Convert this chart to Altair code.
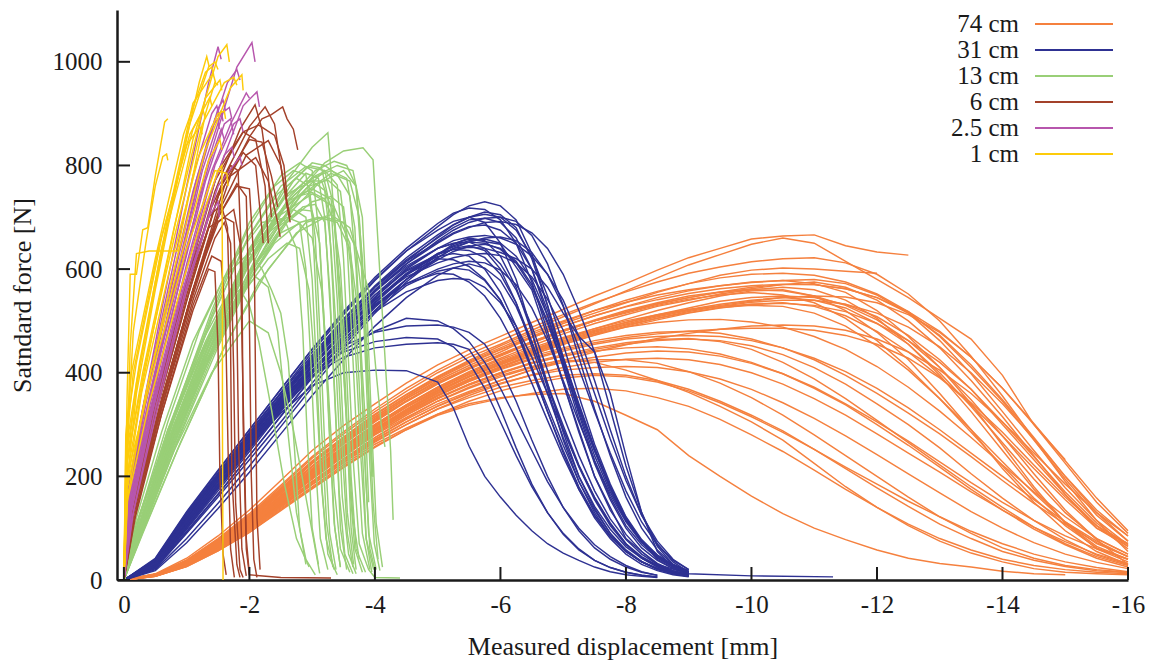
import altair as alt
import pandas as pd

GROUPS = ["74 cm", "31 cm", "13 cm", "6 cm", "2.5 cm", "1 cm"]
COLORS = ["#F5803E", "#2E3192", "#99CF77", "#A3412A", "#B756AD", "#FDCB0A"]

X_TICKS = [0, -2, -4, -6, -8, -10, -12, -14, -16]
Y_TICKS = [0, 200, 400, 600, 800, 1000]

# ---- 74 cm (shared displacement grid, mm) ----
ORANGE_X = [0, -0.5, -1, -1.5, -2, -2.5, -3, -3.5, -4, -4.5, -5, -5.5, -6,
            -6.5, -7, -7.5, -8, -8.5, -9, -9.5, -10, -10.5, -11,
            -11.5, -12, -12.5, -13, -13.5, -14, -14.5, -15, -15.5, -16]
ORANGE_Y = [
    [0, 12, 42, 85, 135, 192, 250, 298, 340, 380, 415, 444, 470, 497, 522, 548, 572, 598, 622, 640, 658, 664, 666, 645, 633, 627],
    [0, 11, 38, 78, 125, 180, 235, 282, 325, 364, 400, 430, 455, 482, 508, 533, 558, 583, 608, 628, 648, 660, 650, 615, 580, 545, 505, 465, 395, 300, 232],
    [0, 10, 35, 74, 120, 172, 225, 272, 315, 354, 390, 420, 445, 470, 495, 515, 535, 555, 572, 588, 598, 602, 600, 596, 592],
    [0, 10, 36, 74, 118, 170, 220, 267, 310, 350, 385, 414, 440, 468, 490, 510, 528, 545, 558, 568, 575, 578, 572, 555, 520, 470, 410, 340, 260, 180, 110, 60, 35],
    [0, 9, 33, 70, 112, 162, 210, 256, 300, 338, 372, 402, 428, 452, 475, 495, 512, 528, 540, 552, 560, 565, 560, 540, 505, 455, 395, 325, 250, 175, 110, 65, 40],
    [0, 8, 30, 64, 105, 153, 200, 246, 290, 328, 362, 392, 418, 443, 465, 485, 503, 520, 535, 548, 558, 560, 548, 520, 478, 425, 360, 290, 215, 150, 95, 55, 30],
    [0, 10, 34, 72, 115, 166, 215, 262, 305, 344, 378, 407, 432, 457, 480, 500, 518, 533, 545, 555, 562, 570, 575, 565, 540, 500, 448, 385, 315, 240, 165, 100, 70],
    [0, 9, 31, 67, 108, 157, 205, 251, 295, 334, 368, 397, 422, 445, 465, 482, 497, 510, 522, 532, 540, 545, 540, 525, 495, 455, 400, 335, 265, 195, 130, 80, 50],
    [0, 11, 37, 76, 120, 173, 225, 270, 312, 350, 382, 410, 435, 460, 482, 500, 515, 530, 542, 550, 555, 550, 535, 505, 462, 410, 350, 285, 220, 158, 105, 62, 40],
    [0, 8, 29, 62, 100, 148, 195, 241, 285, 322, 355, 384, 410, 435, 455, 472, 488, 502, 515, 525, 532, 535, 528, 510, 480, 440, 392, 338, 278, 215, 155, 100, 65],
    [0, 10, 35, 70, 112, 163, 212, 257, 300, 337, 370, 397, 420, 442, 462, 480, 497, 512, 525, 538, 545, 548, 545, 532, 508, 472, 425, 368, 300, 232, 165, 105, 60],
    [0, 9, 32, 68, 110, 160, 208, 254, 298, 334, 365, 392, 415, 438, 458, 476, 492, 505, 516, 526, 530, 528, 515, 490, 452, 405, 350, 290, 228, 168, 112, 70, 45],
    [0, 8, 30, 63, 102, 150, 195, 240, 282, 318, 350, 376, 398, 418, 432, 445, 455, 462, 465, 462, 452, 435, 410, 378, 340, 300, 255, 205, 158, 115, 78, 48, 30],
    [0, 8, 28, 60, 98, 145, 190, 233, 275, 310, 340, 364, 385, 405, 420, 430, 438, 442, 440, 432, 418, 398, 370, 338, 300, 260, 218, 175, 135, 98, 68, 42, 25],
    [0, 9, 33, 68, 108, 157, 205, 250, 292, 328, 360, 387, 410, 432, 448, 462, 472, 478, 480, 476, 465, 448, 425, 395, 360, 322, 282, 238, 192, 148, 108, 72, 45],
    [0, 9, 31, 65, 104, 152, 198, 243, 286, 321, 352, 378, 400, 420, 435, 448, 458, 464, 466, 460, 445, 420, 388, 350, 308, 265, 222, 180, 140, 102, 70, 45, 28],
    [0, 7, 27, 58, 95, 138, 180, 222, 262, 293, 320, 340, 352, 358, 360, 345, 318, 290, 240, 200, 162, 128, 100, 78, 58, 42, 32, 25, 17, 12, 10],
    [0, 8, 29, 62, 100, 146, 190, 234, 275, 312, 345, 372, 395, 412, 425, 420, 405, 385, 362, 335, 305, 270, 225, 180, 140, 105, 75, 52, 35, 22, 15, 12, 10],
    [0, 7, 26, 56, 92, 136, 178, 219, 258, 290, 318, 337, 350, 360, 368, 370, 365, 352, 335, 310, 280, 248, 212, 175, 140, 108, 80, 58, 40, 28, 20, 15, 12],
    [0, 8, 30, 64, 103, 150, 195, 238, 280, 314, 345, 370, 392, 410, 420, 425, 425, 418, 402, 380, 352, 318, 280, 240, 200, 160, 122, 90, 62, 42, 28, 20, 15],
    [0, 8, 28, 60, 97, 142, 185, 227, 268, 300, 330, 352, 372, 385, 395, 398, 395, 385, 368, 345, 318, 288, 252, 215, 178, 142, 108, 80, 55, 38, 26, 18, 14],
    [0, 10, 36, 75, 122, 175, 228, 275, 318, 357, 392, 422, 448, 474, 498, 520, 540, 557, 572, 583, 590, 592, 588, 575, 552, 518, 470, 410, 345, 270, 195, 125, 75],
    [0, 11, 37, 77, 124, 177, 230, 276, 320, 358, 393, 424, 452, 478, 500, 520, 536, 550, 560, 568, 574, 578, 580, 572, 550, 515, 462, 398, 325, 250, 178, 115, 68],
    [0, 9, 32, 68, 110, 158, 205, 250, 292, 330, 364, 392, 416, 438, 458, 475, 488, 497, 502, 503, 498, 488, 470, 445, 412, 372, 326, 275, 222, 170, 122, 80, 50],
    [0, 8, 29, 62, 100, 145, 190, 232, 272, 305, 335, 360, 380, 395, 405, 410, 412, 410, 402, 388, 368, 342, 312, 278, 242, 205, 168, 132, 100, 72, 50, 34, 22],
    [0, 11, 39, 80, 128, 183, 238, 286, 330, 370, 405, 436, 462, 488, 512, 535, 556, 575, 592, 604, 614, 620, 622, 612, 590, 552, 500, 432, 355, 272, 190, 115, 55],
    [0, 9, 33, 70, 113, 163, 212, 258, 300, 338, 372, 400, 425, 448, 468, 485, 500, 512, 522, 528, 532, 534, 530, 518, 495, 462, 420, 368, 305, 238, 170, 110, 65],
    [0, 8, 30, 64, 104, 150, 196, 240, 282, 318, 350, 378, 400, 418, 432, 442, 448, 450, 446, 436, 420, 398, 372, 340, 305, 268, 228, 188, 150, 115, 85, 60, 40],
    [0, 9, 31, 66, 106, 154, 200, 245, 288, 325, 357, 385, 408, 428, 445, 458, 468, 475, 480, 484, 486, 486, 482, 472, 455, 428, 390, 342, 285, 222, 160, 105, 70],
    [0, 10, 35, 73, 118, 169, 220, 266, 308, 346, 380, 410, 436, 460, 482, 502, 520, 535, 548, 556, 560, 558, 548, 530, 502, 462, 410, 348, 278, 205, 135, 78, 30],
    [0, 9, 32, 67, 108, 156, 203, 248, 290, 327, 360, 388, 412, 435, 455, 473, 490, 505, 518, 528, 536, 540, 540, 532, 515, 488, 450, 400, 340, 272, 200, 135, 85],
    [0, 8, 29, 61, 99, 144, 188, 230, 270, 305, 336, 362, 385, 406, 424, 440, 454, 466, 476, 484, 490, 492, 490, 482, 465, 440, 405, 360, 305, 245, 185, 130, 85],
    [0, 10, 34, 71, 116, 167, 218, 264, 307, 345, 379, 408, 434, 458, 480, 500, 517, 532, 545, 556, 565, 570, 570, 562, 545, 515, 472, 415, 348, 275, 200, 130, 75],
    [0, 7, 27, 58, 96, 140, 184, 226, 266, 300, 330, 356, 378, 396, 410, 420, 426, 428, 425, 416, 400, 378, 350, 318, 282, 245, 208, 170, 135, 102, 74, 50, 32],
    [0, 9, 33, 69, 111, 160, 208, 253, 296, 333, 366, 394, 418, 440, 460, 478, 494, 508, 520, 530, 538, 545, 548, 546, 535, 512, 478, 430, 370, 300, 225, 150, 90],
    [0, 8, 31, 65, 105, 153, 200, 245, 288, 324, 356, 383, 406, 426, 442, 455, 465, 470, 472, 470, 462, 448, 428, 402, 370, 332, 290, 245, 200, 155, 112, 75, 45],
    [0, 10, 36, 75, 121, 174, 226, 272, 315, 353, 388, 418, 444, 468, 490, 510, 527, 541, 553, 562, 568, 571, 570, 562, 545, 518, 480, 430, 370, 302, 230, 158, 95],
    [0, 7, 26, 56, 92, 134, 176, 217, 256, 290, 320, 345, 365, 380, 390, 395, 392, 382, 365, 342, 315, 285, 252, 218, 185, 152, 122, 94, 70, 50, 35, 24, 16],
]

# ---- 31 cm (shared grid) ----
BLUE_X = [0, -0.5, -1, -1.5, -2, -2.5, -3, -3.5, -4, -4.5, -5, -5.25, -5.5, -5.75, -6,
          -6.25, -6.5, -6.75, -7, -7.25, -7.5, -7.75, -8, -8.25, -8.5, -8.75, -9]
BLUE_Y = [
    [0, 38, 125, 205, 285, 362, 440, 512, 578, 635, 682, 705, 722, 730, 722, 695, 630, 530, 420, 320, 230, 160, 105, 68, 42, 25, 15],
    [0, 34, 118, 195, 275, 350, 425, 495, 560, 615, 662, 685, 700, 710, 705, 680, 620, 530, 430, 335, 250, 175, 115, 75, 48, 30, 18],
    [0, 22, 90, 160, 232, 305, 380, 452, 520, 580, 628, 648, 660, 655, 625, 565, 478, 380, 285, 200, 138, 90, 55, 35, 22, 14, 8],
    [0, 36, 122, 200, 280, 355, 430, 500, 565, 615, 652, 670, 682, 685, 675, 650, 600, 520, 430, 340, 255, 180, 120, 75, 45, 28, 16],
    [0, 20, 80, 148, 220, 296, 372, 446, 515, 575, 622, 640, 645, 636, 600, 535, 450, 360, 275, 200, 142, 98, 64, 42, 28, 18, 10],
    [0, 25, 98, 172, 248, 325, 398, 468, 530, 580, 618, 634, 644, 648, 640, 615, 570, 500, 415, 325, 240, 170, 115, 75, 45, 28, 16],
    [0, 33, 115, 192, 268, 344, 416, 480, 540, 590, 620, 618, 605, 580, 540, 480, 410, 335, 260, 190, 135, 90, 58, 36, 22, 14, 8],
    [0, 35, 120, 198, 276, 352, 426, 495, 558, 610, 650, 668, 680, 690, 692, 686, 670, 640, 590, 520, 440, 330, 220, 130, 65, 30, 14],
    [0, 27, 102, 178, 254, 330, 404, 472, 536, 590, 630, 643, 652, 650, 638, 612, 565, 495, 415, 330, 250, 180, 120, 75, 40, 22, 12],
    [0, 31, 112, 190, 266, 342, 414, 482, 545, 598, 628, 638, 642, 640, 632, 620, 600, 565, 515, 470, 440, 360, 240, 130, 55, 25, 12],
    [0, 37, 124, 202, 280, 354, 426, 490, 550, 596, 624, 630, 625, 600, 555, 490, 410, 325, 245, 175, 120, 80, 50, 30, 18, 10, 6],
    [0, 18, 72, 138, 208, 282, 356, 425, 490, 545, 588, 602, 610, 602, 578, 528, 458, 378, 298, 222, 158, 108, 70, 45, 28, 16, 9],
    [0, 30, 110, 185, 258, 322, 375, 400, 405, 404, 382, 332, 258, 200, 160, 125, 95, 70, 52, 38, 25, 16, 10, 7, 5],
    [0, 40, 128, 205, 280, 345, 402, 440, 460, 468, 465, 450, 420, 370, 305, 240, 180, 130, 90, 60, 38, 24, 15, 9, 6],
    [0, 28, 104, 180, 255, 328, 392, 443, 480, 505, 500, 485, 460, 420, 370, 310, 250, 190, 140, 100, 68, 45, 28, 16, 9],
    [0, 32, 114, 190, 265, 336, 395, 430, 448, 455, 458, 455, 445, 400, 330, 255, 185, 130, 88, 58, 38, 24, 15, 9, 6],
    [0, 29, 106, 182, 258, 332, 402, 464, 518, 556, 578, 582, 580, 565, 535, 490, 430, 360, 290, 220, 160, 110, 70, 42, 25, 14, 8],
    [0, 37, 124, 204, 284, 360, 434, 502, 566, 618, 660, 680, 695, 698, 690, 660, 600, 510, 410, 310, 225, 155, 100, 62, 38, 22, 12],
    [0, 42, 132, 212, 290, 368, 445, 515, 580, 635, 675, 692, 700, 690, 650, 580, 480, 370, 270, 190, 130, 85, 55, 35, 20, 12, 7],
    [0, 40, 130, 210, 290, 368, 446, 518, 584, 640, 688, 708, 718, 715, 695, 650, 575, 480, 380, 285, 200, 135, 88, 55, 32, 18, 10],
    [0, 24, 94, 166, 240, 316, 390, 458, 520, 568, 596, 602, 598, 578, 540, 480, 405, 325, 250, 180, 125, 85, 55, 35, 22, 12, 7],
    [0, 30, 110, 186, 262, 338, 412, 480, 545, 600, 640, 655, 662, 665, 660, 648, 625, 590, 540, 470, 385, 290, 200, 125, 70, 35, 15],
    [0, 35, 118, 196, 270, 340, 405, 452, 478, 490, 492, 488, 478, 455, 410, 345, 270, 200, 140, 95, 62, 40, 25, 15, 9],
    [0, 30, 108, 185, 260, 335, 410, 478, 540, 592, 630, 638, 636, 622, 590, 535, 460, 375, 292, 218, 155, 105, 68, 42, 26, 15, 9],
    [0, 33, 116, 194, 272, 348, 422, 492, 556, 610, 655, 675, 690, 698, 700, 692, 665, 610, 530, 430, 330, 240, 160, 100, 58, 30, 15],
    [0, 26, 100, 176, 252, 328, 402, 470, 534, 588, 628, 645, 655, 658, 650, 625, 580, 510, 425, 335, 250, 178, 118, 75, 45, 26, 14],
    [0, 36, 122, 200, 278, 354, 428, 496, 558, 606, 640, 650, 652, 640, 610, 560, 490, 405, 318, 240, 172, 118, 78, 50, 30, 17, 9],
    [0, 23, 92, 165, 240, 316, 392, 462, 526, 580, 622, 640, 652, 660, 662, 655, 632, 590, 528, 448, 360, 272, 192, 125, 75, 40, 20],
    [0, 32, 112, 190, 266, 340, 412, 476, 532, 572, 592, 590, 575, 548, 505, 448, 380, 308, 238, 175, 124, 84, 55, 35, 22, 13, 8],
    [0, 39, 127, 206, 284, 360, 434, 504, 568, 622, 666, 686, 700, 706, 700, 675, 625, 548, 455, 355, 262, 185, 122, 78, 48, 28, 15],
    [0, 28, 106, 182, 258, 333, 405, 470, 528, 572, 600, 610, 615, 612, 598, 570, 525, 462, 385, 305, 230, 165, 112, 72, 44, 25, 14],
    [0, 34, 118, 195, 272, 348, 420, 486, 542, 585, 612, 622, 628, 630, 626, 612, 585, 542, 482, 408, 325, 245, 172, 112, 68, 38, 20],
]
BLUE_TAIL = [(0, 0), (-0.5, 32), (-1, 115), (-1.5, 195), (-2, 272), (-2.5, 348), (-3, 420), (-3.5, 488),
             (-4, 550), (-4.5, 603), (-5, 640), (-5.5, 658), (-6, 648), (-6.5, 560), (-7, 380), (-7.5, 200),
             (-8, 80), (-8.5, 30), (-9, 12), (-10, 8), (-11.3, 6)]

# ---- 13 cm ----
GREEN = [
    [(0, 0), (-0.3, 115), (-0.8, 290), (-1.4, 470), (-2.0, 630), (-2.6, 770), (-3.0, 835), (-3.25, 863), (-3.28, 820), (-3.35, 700), (-3.45, 500), (-3.55, 300), (-3.65, 120), (-3.75, 40)],
    [(0, 0), (-0.3, 105), (-0.8, 270), (-1.5, 470), (-2.2, 630), (-2.8, 750), (-3.2, 805), (-3.5, 828), (-3.81, 834), (-3.97, 811), (-4.05, 650), (-4.15, 450), (-4.25, 250), (-4.29, 116)],
    [(0, 0), (-0.25, 125), (-0.7, 290), (-1.3, 460), (-1.9, 610), (-2.5, 730), (-2.9, 785), (-3.1, 775), (-3.2, 700), (-3.3, 500), (-3.38, 300), (-3.45, 100), (-3.55, 20)],
    [(0, 0), (-0.3, 120), (-0.8, 300), (-1.4, 480), (-2.0, 630), (-2.6, 730), (-3.0, 755), (-3.3, 735), (-3.45, 600), (-3.55, 400), (-3.62, 200), (-3.7, 60), (-3.85, 15)],
    [(0, 0), (-0.2, 110), (-0.7, 280), (-1.2, 430), (-1.8, 580), (-2.3, 675), (-2.7, 715), (-2.9, 700), (-3.0, 580), (-3.08, 380), (-3.15, 180), (-3.25, 50), (-3.4, 10)],
    [(0, 0), (-0.3, 100), (-0.9, 280), (-1.5, 450), (-2.1, 600), (-2.7, 715), (-3.1, 765), (-3.5, 790), (-3.7, 760), (-3.8, 620), (-3.88, 420), (-3.95, 200)],
    [(0, 0), (-0.25, 110), (-0.7, 265), (-1.3, 430), (-1.8, 545), (-2.1, 585), (-2.3, 565), (-2.45, 480), (-2.6, 300), (-2.75, 130), (-2.9, 40), (-3.05, 10)],
    [(0, 0), (-0.3, 95), (-0.8, 250), (-1.4, 400), (-2.0, 500), (-2.3, 477), (-2.5, 400), (-2.7, 290), (-2.9, 160), (-3.05, 60), (-3.12, 13)],
    [(0, 0), (-0.3, 125), (-0.8, 310), (-1.4, 505), (-2.0, 665), (-2.5, 760), (-2.9, 798), (-3.2, 790), (-3.35, 720), (-3.45, 520), (-3.55, 300), (-3.62, 100), (-3.7, 20)],
    [(0, 0), (-0.28, 110), (-0.75, 275), (-1.35, 450), (-1.95, 610), (-2.5, 705), (-3.0, 745), (-3.35, 720), (-3.6, 650), (-3.72, 450), (-3.8, 250), (-3.86, 80), (-3.95, 15)],
    [(0, 0), (-0.3, 112), (-0.85, 290), (-1.5, 475), (-2.2, 645), (-2.8, 740), (-3.3, 785), (-3.6, 770), (-3.75, 700), (-3.85, 500), (-3.92, 300), (-3.97, 199)],
    [(0, 0), (-0.3, 92), (-0.9, 265), (-1.6, 450), (-2.3, 600), (-2.9, 690), (-3.3, 705), (-3.6, 680), (-3.9, 560), (-4.02, 400), (-4.1, 300), (-4.16, 257)],
    [(0, 0), (-0.25, 125), (-0.7, 305), (-1.2, 480), (-1.7, 610), (-2.2, 690), (-2.55, 698), (-2.75, 640), (-2.85, 480), (-2.92, 280), (-3.0, 100), (-3.1, 30)],
    [(0, 0), (-0.3, 112), (-0.8, 280), (-1.4, 455), (-2.0, 595), (-2.5, 670), (-2.8, 688), (-3.0, 660), (-3.15, 560), (-3.25, 380), (-3.35, 180), (-3.45, 60), (-3.6, 15)],
    [(0, 0), (-0.3, 122), (-0.8, 300), (-1.45, 495), (-2.1, 655), (-2.7, 770), (-3.0, 805), (-3.2, 800), (-3.4, 782), (-3.6, 742), (-3.7, 600), (-3.78, 400), (-3.85, 200), (-3.92, 60), (-4.0, 20)],
    [(0, 0), (-0.2, 120), (-0.6, 285), (-1.1, 460), (-1.6, 585), (-2.0, 632), (-2.2, 600), (-2.35, 560), (-2.5, 515), (-2.62, 420), (-2.72, 250), (-2.8, 100), (-2.9, 30)],
    [(0, 0), (-0.3, 108), (-0.9, 295), (-1.6, 495), (-2.3, 655), (-2.9, 755), (-3.2, 790), (-3.4, 762), (-3.5, 620), (-3.58, 420), (-3.66, 220), (-3.75, 70), (-3.9, 20), (-4.0, 5), (-4.4, 4)],
    [(0, 0), (-0.3, 118), (-0.8, 295), (-1.4, 478), (-2.0, 640), (-2.6, 745), (-3.0, 770), (-3.2, 752), (-3.3, 640), (-3.4, 450), (-3.48, 250), (-3.56, 90), (-3.65, 25)],
    [(0, 0), (-0.25, 100), (-0.75, 260), (-1.3, 420), (-1.9, 560), (-2.4, 650), (-2.8, 690), (-3.1, 700), (-3.4, 690), (-3.6, 640), (-3.75, 500), (-3.85, 300), (-3.9, 150)],
    [(0, 0), (-0.3, 130), (-0.8, 320), (-1.4, 520), (-2.0, 690), (-2.5, 780), (-2.8, 805), (-3.0, 790), (-3.1, 680), (-3.2, 480), (-3.28, 280), (-3.36, 100), (-3.45, 25)],
    [(0, 0), (-0.3, 98), (-0.8, 255), (-1.4, 430), (-2.0, 580), (-2.6, 690), (-3.0, 730), (-3.3, 740), (-3.5, 720), (-3.62, 600), (-3.7, 420), (-3.78, 230), (-3.86, 80), (-3.98, 20)],
    [(0, 0), (-0.3, 120), (-0.85, 305), (-1.5, 500), (-2.1, 660), (-2.6, 760), (-2.95, 800), (-3.15, 795), (-3.25, 740), (-3.33, 560), (-3.4, 360), (-3.48, 160), (-3.58, 50), (-3.7, 12)],
    [(0, 0), (-0.25, 105), (-0.7, 268), (-1.25, 440), (-1.8, 580), (-2.3, 670), (-2.6, 700), (-2.8, 690), (-2.9, 600), (-2.98, 420), (-3.05, 230), (-3.13, 80), (-3.25, 20)],
    [(0, 0), (-0.3, 115), (-0.8, 288), (-1.4, 468), (-2.0, 620), (-2.6, 730), (-3.0, 775), (-3.3, 790), (-3.55, 775), (-3.68, 680), (-3.76, 480), (-3.83, 260), (-3.9, 90), (-4.02, 20)],
    [(0, 0), (-0.3, 102), (-0.8, 262), (-1.4, 438), (-2.0, 590), (-2.5, 680), (-2.85, 720), (-3.05, 725), (-3.2, 690), (-3.28, 560), (-3.36, 360), (-3.43, 170), (-3.52, 50), (-3.65, 12)],
    [(0, 0), (-0.25, 118), (-0.7, 290), (-1.2, 450), (-1.6, 540), (-1.85, 560), (-2.0, 530), (-2.15, 460), (-2.35, 330), (-2.55, 190), (-2.75, 80), (-2.95, 25)],
    [(0, 0), (-0.3, 110), (-0.8, 282), (-1.45, 470), (-2.05, 625), (-2.65, 735), (-3.05, 780), (-3.4, 800), (-3.65, 790), (-3.8, 700), (-3.88, 500), (-3.95, 290), (-4.02, 110), (-4.12, 25)],
    [(0, 0), (-0.3, 125), (-0.8, 312), (-1.4, 505), (-1.95, 655), (-2.45, 745), (-2.75, 775), (-2.95, 760), (-3.05, 660), (-3.13, 460), (-3.2, 260), (-3.28, 90), (-3.38, 20)],
    [(0, 0), (-0.3, 90), (-0.85, 250), (-1.5, 425), (-2.15, 575), (-2.75, 670), (-3.2, 700), (-3.5, 690), (-3.7, 640), (-3.82, 520), (-3.9, 340), (-3.97, 150), (-4.05, 40)],
    [(0, 0), (-0.28, 115), (-0.78, 290), (-1.38, 475), (-1.98, 630), (-2.55, 735), (-2.9, 770), (-3.15, 770), (-3.3, 720), (-3.4, 540), (-3.48, 330), (-3.56, 130), (-3.66, 30)],
    [(0, 0), (-0.3, 105), (-0.8, 272), (-1.4, 455), (-2.0, 610), (-2.55, 715), (-2.95, 760), (-3.25, 772), (-3.45, 750), (-3.56, 640), (-3.64, 450), (-3.72, 250), (-3.8, 90), (-3.92, 20)],
    [(0, 0), (-0.3, 128), (-0.8, 318), (-1.4, 512), (-1.95, 670), (-2.4, 760), (-2.7, 790), (-2.9, 782), (-3.0, 700), (-3.08, 500), (-3.15, 290), (-3.23, 110), (-3.33, 25)],
    [(0, 0), (-0.25, 95), (-0.75, 248), (-1.3, 410), (-1.85, 545), (-2.3, 620), (-2.6, 650), (-2.8, 640), (-2.95, 560), (-3.05, 400), (-3.13, 220), (-3.22, 80), (-3.35, 20)],
    [(0, 0), (-0.3, 112), (-0.8, 285), (-1.45, 472), (-2.05, 628), (-2.65, 740), (-3.05, 790), (-3.35, 808), (-3.55, 800), (-3.7, 760), (-3.78, 620), (-3.85, 420), (-3.92, 220), (-3.99, 70), (-4.08, 18)],
    [(0, 0), (-0.3, 100), (-0.8, 262), (-1.4, 440), (-1.95, 585), (-2.45, 680), (-2.8, 715), (-3.0, 712), (-3.12, 650), (-3.2, 480), (-3.27, 290), (-3.35, 110), (-3.45, 25)],
    [(0, 0), (-0.28, 108), (-0.78, 278), (-1.35, 455), (-1.9, 600), (-2.4, 700), (-2.75, 740), (-3.0, 748), (-3.2, 735), (-3.35, 690), (-3.45, 560), (-3.53, 370), (-3.6, 180), (-3.68, 60), (-3.8, 15)],
]

# ---- 6 cm ----
BROWN = [
    [(0, 0), (-0.1, 125), (-0.5, 320), (-1.0, 540), (-1.6, 780), (-2.0, 875), (-2.25, 913), (-2.4, 880), (-2.5, 800), (-2.6, 720), (-2.65, 690)],
    [(0, 0), (-0.12, 120), (-0.55, 320), (-1.1, 560), (-1.6, 760), (-2.0, 855), (-2.2, 890), (-2.35, 898), (-2.53, 913), (-2.6, 890), (-2.7, 870), (-2.77, 830)],
    [(0, 0), (-0.1, 130), (-0.45, 320), (-0.95, 540), (-1.45, 750), (-1.85, 870), (-2.09, 917), (-2.2, 870), (-2.3, 780), (-2.35, 700)],
    [(0, 0), (-0.15, 130), (-0.6, 330), (-1.1, 540), (-1.45, 660), (-1.6, 690), (-1.7, 650), (-1.75, 400), (-1.78, 150), (-1.85, 20), (-1.9, 5)],
    [(0, 0), (-0.12, 145), (-0.5, 340), (-1.0, 560), (-1.4, 720), (-1.7, 800), (-1.82, 790), (-1.88, 600), (-1.9, 300), (-1.95, 60), (-2.0, 10)],
    [(0, 0), (-0.2, 140), (-0.6, 320), (-1.1, 520), (-1.35, 600), (-1.45, 595), (-1.5, 450), (-1.53, 200), (-1.58, 50), (-1.63, 10)],
    [(0, 0), (-0.15, 135), (-0.55, 325), (-1.05, 540), (-1.5, 700), (-1.8, 765), (-1.95, 740), (-2.0, 500), (-2.03, 200), (-2.07, 40), (-2.12, 5)],
    [(0, 0), (-0.1, 140), (-0.45, 330), (-0.95, 560), (-1.45, 770), (-1.9, 865), (-2.1, 850), (-2.25, 760), (-2.3, 650)],
    [(0, 0), (-0.14, 125), (-0.6, 350), (-1.2, 600), (-1.7, 780), (-2.1, 815), (-2.3, 770), (-2.45, 690), (-2.49, 662)],
    [(0, 0), (-0.12, 135), (-0.5, 330), (-1.0, 550), (-1.5, 740), (-1.9, 825), (-2.1, 800), (-2.18, 700), (-2.22, 650)],
    [(0, 0), (-0.18, 120), (-0.6, 320), (-1.1, 530), (-1.4, 625), (-1.55, 615), (-1.62, 500), (-1.66, 250), (-1.7, 60), (-1.76, 5)],
    [(0, 0), (-0.15, 110), (-0.55, 310), (-1.05, 530), (-1.55, 720), (-1.95, 820), (-2.3, 848), (-2.5, 800), (-2.6, 730), (-2.65, 700)],
    [(0, 0), (-0.1, 130), (-0.5, 350), (-1.0, 580), (-1.35, 700), (-1.55, 725), (-1.65, 680), (-1.7, 450), (-1.72, 200), (-1.8, 30), (-1.85, 5)],
    [(0, 0), (-0.15, 125), (-0.6, 345), (-1.1, 560), (-1.5, 690), (-1.75, 715), (-1.85, 650), (-1.9, 350), (-1.95, 80), (-2.0, 10), (-2.5, 5), (-3.3, 4)],
    [(0, 0), (-0.12, 140), (-0.5, 345), (-1.0, 575), (-1.5, 790), (-1.9, 865), (-2.15, 878), (-2.4, 858), (-2.55, 800), (-2.6, 740)],
    [(0, 0), (-0.16, 130), (-0.6, 340), (-1.1, 560), (-1.5, 700), (-1.8, 760), (-2.0, 755), (-2.08, 600), (-2.1, 350), (-2.12, 120), (-2.17, 20)],
    [(0, 0), (-0.1, 150), (-0.4, 320), (-0.9, 530), (-1.35, 680), (-1.6, 700), (-1.75, 690), (-1.8, 500), (-1.83, 250), (-1.88, 60), (-1.95, 8)],
    [(0, 0), (-0.13, 130), (-0.55, 340), (-1.05, 560), (-1.55, 760), (-2.0, 850), (-2.2, 845), (-2.35, 780), (-2.45, 720)],
]

# ---- 2.5 cm ----
MAGENTA = [
    [(0, 0), (-0.08, 160), (-0.25, 300), (-0.6, 520), (-1.0, 760), (-1.35, 960), (-1.5, 1029), (-1.55, 1005)],
    [(0, 0), (-0.1, 120), (-0.35, 290), (-0.8, 530), (-1.3, 790), (-1.8, 990), (-2.04, 1037), (-2.09, 1000)],
    [(0, 0), (-0.12, 140), (-0.45, 330), (-0.95, 560), (-1.45, 770), (-1.9, 915), (-2.12, 942), (-2.16, 913)],
    [(0, 0), (-0.1, 180), (-0.4, 350), (-0.8, 570), (-1.2, 780), (-1.5, 910), (-1.58, 926), (-1.62, 905)],
    [(0, 0), (-0.15, 130), (-0.5, 330), (-1.0, 570), (-1.5, 760), (-1.85, 817), (-1.88, 800)],
    [(0, 0), (-0.1, 160), (-0.45, 370), (-0.95, 620), (-1.35, 800), (-1.55, 870), (-1.6, 850)],
    [(0, 0), (-0.13, 120), (-0.55, 340), (-1.0, 560), (-1.35, 700), (-1.5, 730), (-1.52, 700)],
    [(0, 0), (-0.08, 150), (-0.3, 320), (-0.7, 545), (-1.1, 750), (-1.4, 875), (-1.5, 890), (-1.52, 870)],
    [(0, 0), (-0.1, 140), (-0.4, 330), (-0.9, 580), (-1.3, 770), (-1.6, 880), (-1.7, 890), (-1.75, 860)],
    [(0, 0), (-0.12, 150), (-0.5, 360), (-1.0, 610), (-1.4, 790), (-1.7, 880), (-1.95, 940), (-2.0, 930)],
    [(0, 0), (-0.06, 170), (-0.3, 330), (-0.7, 560), (-1.1, 780), (-1.4, 900), (-1.48, 915), (-1.52, 895)],
    [(0, 0), (-0.1, 150), (-0.4, 340), (-0.85, 580), (-1.25, 790), (-1.55, 900), (-1.68, 912), (-1.72, 890)],
    [(0, 0), (-0.12, 130), (-0.45, 320), (-0.9, 540), (-1.3, 720), (-1.6, 820), (-1.72, 835), (-1.76, 815)],
    [(0, 0), (-0.08, 160), (-0.35, 340), (-0.75, 560), (-1.15, 770), (-1.45, 890), (-1.55, 905), (-1.58, 885)],
    [(0, 0), (-0.1, 175), (-0.4, 350), (-0.85, 590), (-1.3, 830), (-1.65, 960), (-1.8, 985), (-1.85, 965)],
    [(0, 0), (-0.12, 140), (-0.5, 350), (-1.0, 600), (-1.45, 800), (-1.75, 880), (-1.85, 890), (-1.9, 865)],
]

# ---- 1 cm ----
YELLOW = [
    [(0, 0), (-0.05, 350), (-0.1, 590), (-0.2, 590), (-0.3, 676), (-0.38, 680), (-0.5, 780), (-0.65, 884), (-0.7, 890)],
    [(0, 0), (-0.08, 330), (-0.15, 480), (-0.35, 650), (-0.5, 760), (-0.62, 817), (-0.68, 822), (-0.7, 810)],
    [(0, 0), (-0.1, 450), (-0.2, 630), (-0.4, 635), (-0.85, 635), (-1.0, 720), (-1.3, 900), (-1.45, 960), (-1.5, 955)],
    [(0, 0), (-0.04, 180), (-0.2, 360), (-0.5, 560), (-0.9, 800), (-1.2, 960), (-1.32, 1010), (-1.36, 990)],
    [(0, 0), (-0.05, 200), (-0.3, 380), (-0.7, 620), (-1.1, 850), (-1.5, 1010), (-1.64, 1033), (-1.68, 1000)],
    [(0, 0), (-0.06, 160), (-0.35, 360), (-0.8, 600), (-1.3, 830), (-1.7, 950), (-1.88, 975), (-1.9, 945)],
    [(0, 0), (-0.05, 150), (-0.4, 340), (-0.9, 560), (-1.3, 720), (-1.5, 790), (-1.56, 800), (-1.57, 600), (-1.57, 300), (-1.58, 0)],
    [(0, 0), (-0.03, 250), (-0.25, 420), (-0.7, 700), (-1.1, 920), (-1.42, 978), (-1.46, 960)],
    [(0, 0), (-0.04, 220), (-0.3, 400), (-0.8, 680), (-1.3, 930), (-1.53, 965), (-1.56, 945)],
    [(0, 0), (-0.03, 200), (-0.2, 380), (-0.6, 640), (-1.1, 870), (-1.37, 932), (-1.4, 915)],
    [(0, 0), (-0.05, 300), (-0.2, 420), (-0.6, 660), (-1.05, 860), (-1.26, 907), (-1.3, 890)],
    [(0, 0), (-0.04, 260), (-0.15, 400), (-0.55, 640), (-1.0, 840), (-1.21, 875), (-1.25, 860)],
    [(0, 0), (-0.06, 180), (-0.4, 390), (-0.9, 620), (-1.35, 810), (-1.53, 850), (-1.56, 830)],
    [(0, 0), (-0.05, 200), (-0.5, 420), (-1.0, 640), (-1.45, 790), (-1.64, 785), (-1.66, 760)],
    [(0, 0), (-0.04, 240), (-0.25, 410), (-0.65, 660), (-1.05, 880), (-1.35, 990), (-1.45, 1000), (-1.5, 985)],
    [(0, 0), (-0.03, 280), (-0.12, 400), (-0.5, 620), (-0.95, 860), (-1.3, 980), (-1.4, 990), (-1.43, 975)],
    [(0, 0), (-0.05, 230), (-0.35, 420), (-0.8, 660), (-1.25, 880), (-1.6, 960), (-1.75, 970), (-1.8, 955)],
    [(0, 0), (-0.04, 170), (-0.28, 360), (-0.75, 610), (-1.2, 820), (-1.5, 900), (-1.6, 905), (-1.62, 890)],
]

rows = []


def add(group, cid, pts):
    for i, (x, y) in enumerate(pts):
        rows.append({"g": group, "c": cid, "i": i, "x": x, "y": y})


for k, ys in enumerate(ORANGE_Y):
    add("74 cm", f"o{k}", list(zip(ORANGE_X, ys)))
for k, ys in enumerate(BLUE_Y):
    add("31 cm", f"b{k}", list(zip(BLUE_X, ys)))
add("31 cm", "btail", BLUE_TAIL)
for k, pts in enumerate(GREEN):
    add("13 cm", f"g{k}", pts)
for k, pts in enumerate(BROWN):
    add("6 cm", f"r{k}", pts)
for k, pts in enumerate(MAGENTA):
    add("2.5 cm", f"m{k}", pts)
for k, pts in enumerate(YELLOW):
    add("1 cm", f"y{k}", pts)

df = pd.DataFrame(rows)

FONT = "Liberation Serif"
INK = "#1a1a1a"
W, H = 1011, 570

x_scale = alt.Scale(domain=[-16, 0.11], reverse=True, nice=False, zero=False)
y_scale = alt.Scale(domain=[0, 1100], nice=False, zero=False)

x_axis = alt.Axis(
    values=X_TICKS, title="Measured displacement [mm]", ticks=False,
    labelExpr="datum.value == 0 ? '0' : '-' + abs(datum.value)",
    labelPadding=12, labelFlush=False, labelOverlap=False,
    titleX=W / 2, titleY=74, titleBaseline="alphabetic", titleAlign="center")
y_axis = alt.Axis(
    values=Y_TICKS, title="Satndard force [N]", ticks=False, format="d",
    labelPadding=15, labelFlush=False, labelOverlap=False,
    titleX=-95, titleY=H / 2, titleAngle=270, titleBaseline="middle", titleAlign="center")

lines = alt.Chart(df).mark_line(strokeWidth=1.45).encode(
    x=alt.X("x:Q", scale=x_scale, axis=x_axis),
    y=alt.Y("y:Q", scale=y_scale, axis=y_axis),
    color=alt.Color("g:N", scale=alt.Scale(domain=GROUPS, range=COLORS), legend=alt.Legend(
        title=None, orient="none", legendX=876, legendY=1, padding=0,
        symbolType="M2.417,0H8.917", symbolSize=576, symbolStrokeWidth=1.8,
        labelFont=FONT, labelFontSize=25, labelColor=INK, labelAlign="right",
        labelOffset=0, rowPadding=0, labelLimit=0)),
    detail="c:N",
    order="i:Q",
)

xt = alt.Chart(pd.DataFrame({"x": X_TICKS})).mark_rule(color=INK, strokeWidth=2).encode(
    x=alt.X("x:Q", scale=x_scale, axis=x_axis), y=alt.value(H), y2=alt.value(H - 13))
yt = alt.Chart(pd.DataFrame({"y": Y_TICKS})).mark_rule(color=INK, strokeWidth=2).encode(
    y=alt.Y("y:Q", scale=y_scale, axis=y_axis), x=alt.value(0), x2=alt.value(13))

chart = alt.layer(lines, xt, yt).properties(
    width=W, height=H,
    padding={"left": 117, "top": 10, "right": 29, "bottom": 81},
    autosize=alt.AutoSizeParams(type="none"),
    background="white",
).configure_view(stroke=None).configure_axis(
    labelFont=FONT, titleFont=FONT, labelFontSize=25, titleFontSize=26,
    labelColor=INK, titleColor=INK, domainColor=INK, domainWidth=2.5,
    grid=False, titleFontWeight="normal",
)

chart.save("out.html", embed_options={"renderer": "svg", "actions": False})
